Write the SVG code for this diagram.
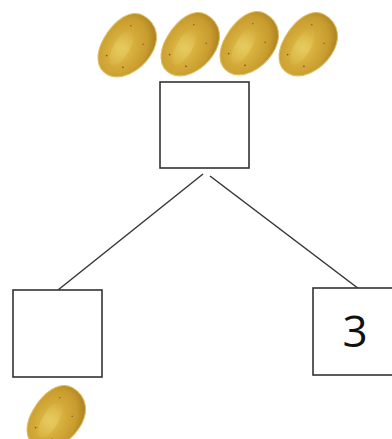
<svg xmlns="http://www.w3.org/2000/svg" width="392" height="439" viewBox="0 0 392 439">
<style>
.box{fill:#fff;stroke:#333;stroke-width:1.6}
.edge{stroke:#333;stroke-width:1.5;fill:none}
.num{font-family:"Open Sans","Liberation Sans",sans-serif;font-size:44px;fill:#111;text-anchor:middle}
</style>
<defs>
<radialGradient id="pg" cx="0.42" cy="0.58" r="0.6">
<stop offset="0" stop-color="#e2c452"/>
<stop offset="0.4" stop-color="#d6ae3c"/>
<stop offset="0.8" stop-color="#c89c2e"/>
<stop offset="1" stop-color="#b38824"/>
</radialGradient>
<linearGradient id="hl" x1="0" y1="0" x2="0" y2="1">
<stop offset="0" stop-color="#ecd470" stop-opacity="0"/>
<stop offset="0.5" stop-color="#ecd470" stop-opacity="0.45"/>
<stop offset="1" stop-color="#ecd470" stop-opacity="0.1"/>
</linearGradient>
<g id="potato">
<path d="M0,-35 C17,-35 27,-22 26,-4 C25,16 12,34 -2,34 C-15,34 -23,22 -23,4 C-23,-16 -15,-35 0,-35Z" fill="url(#pg)" stroke="#dcc06a" stroke-width="1"/>
<ellipse cx="-3" cy="4" rx="8" ry="20" fill="url(#hl)"/>
<circle cx="-12" cy="18" r="0.9" fill="#8a5a18"/>
<circle cx="8" cy="20" r="0.9" fill="#8a5a18"/>
<circle cx="14" cy="-10" r="0.7" fill="#8a5a18"/>
<circle cx="-6" cy="-20" r="0.7" fill="#8a5a18"/>
</g>
</defs>
<rect width="392" height="439" fill="#fff"/>
<g id="potatoes-top">
<use href="#potato" transform="translate(126,46) rotate(30)"/>
<use href="#potato" transform="translate(189,45) rotate(30)"/>
<use href="#potato" transform="translate(248,44) rotate(30)"/>
<use href="#potato" transform="translate(307,45) rotate(30)"/>
</g>
<g id="connectors">
<line class="edge" x1="203" y1="174" x2="58" y2="290"/>
<line class="edge" x1="210" y1="176" x2="359" y2="289"/>
</g>
<g id="node-top">
<rect class="box" x="160" y="82" width="89" height="86"/>
</g>
<g id="node-left">
<rect class="box" x="13" y="290" width="89" height="87"/>
</g>
<g id="node-right">
<rect class="box" x="313" y="288" width="89" height="87"/>
<text class="num" x="355" y="347">3</text>
</g>
<g id="potato-bottom">
<use href="#potato" transform="translate(55,418) rotate(30)"/>
</g>
</svg>
